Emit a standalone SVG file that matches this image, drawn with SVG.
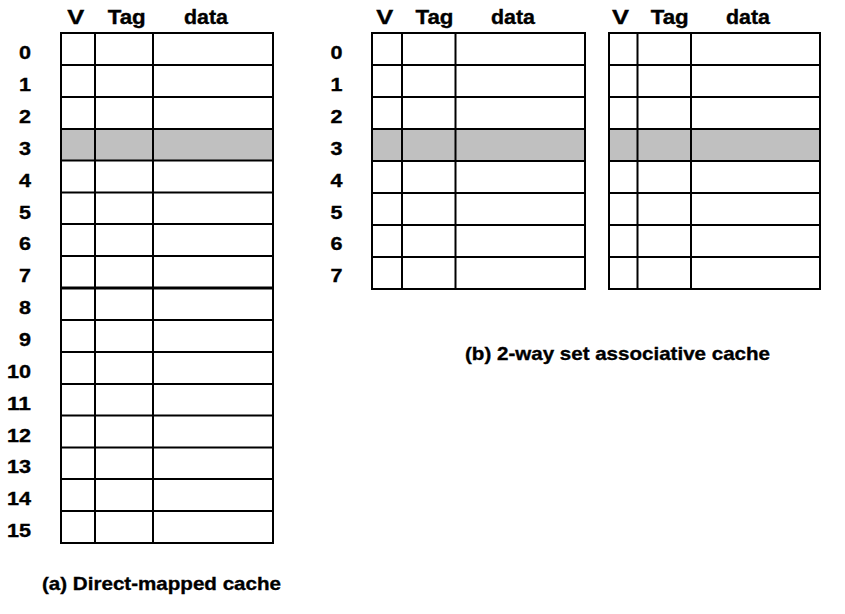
<svg xmlns="http://www.w3.org/2000/svg" width="845" height="614" viewBox="0 0 845 614">
  <style>
    text { font-family: "Liberation Sans", Arial, sans-serif; font-weight: bold; fill: #000; stroke: #000; stroke-width: 0.35px; }
    .hdr { font-size: 19.5px; }
    .idx { font-size: 18.5px; }
    .cap { font-size: 19px; }
    .grid { fill: none; stroke: #000; stroke-width: 2; }
    .thick { stroke: #000; stroke-width: 3; }
    .hit { fill: #c0c0c0; stroke: none; }
  </style>
  <rect width="845" height="614" fill="#fff"/>

  <!-- (a) direct-mapped cache: 16 lines -->
  <g id="direct-mapped">
    <rect class="hit" x="61" y="129" width="212" height="31.5"/>
    <path class="grid" d="M61 33H273V543H61Z M95 33V543 M153 33V543
      M61 65H273 M61 97H273 M61 129H273 M61 160.5H273 M61 192.5H273 M61 224H273 M61 256H273
      M61 320H273 M61 352H273 M61 384H273 M61 415.5H273 M61 447.5H273 M61 479H273 M61 511H273"/>
    <path class="thick" d="M60 288H274"/>
    <text class="hdr" x="67.2" y="24.3" textLength="17" lengthAdjust="spacingAndGlyphs">V</text>
    <text class="hdr" x="107.7" y="24.3" textLength="38" lengthAdjust="spacingAndGlyphs">Tag</text>
    <text class="hdr" x="184" y="24.3" textLength="44" lengthAdjust="spacingAndGlyphs">data</text>
    <text class="idx" x="19" y="59.3" textLength="12" lengthAdjust="spacingAndGlyphs">0</text>
    <text class="idx" x="19" y="91.1" textLength="12" lengthAdjust="spacingAndGlyphs">1</text>
    <text class="idx" x="19" y="123" textLength="12" lengthAdjust="spacingAndGlyphs">2</text>
    <text class="idx" x="19" y="154.8" textLength="12" lengthAdjust="spacingAndGlyphs">3</text>
    <text class="idx" x="19" y="186.7" textLength="12" lengthAdjust="spacingAndGlyphs">4</text>
    <text class="idx" x="19" y="218.5" textLength="12" lengthAdjust="spacingAndGlyphs">5</text>
    <text class="idx" x="19" y="250.4" textLength="12" lengthAdjust="spacingAndGlyphs">6</text>
    <text class="idx" x="19" y="282.2" textLength="12" lengthAdjust="spacingAndGlyphs">7</text>
    <text class="idx" x="19" y="314" textLength="12" lengthAdjust="spacingAndGlyphs">8</text>
    <text class="idx" x="19" y="345.9" textLength="12" lengthAdjust="spacingAndGlyphs">9</text>
    <text class="idx" x="7" y="377.5" textLength="24" lengthAdjust="spacingAndGlyphs">10</text>
    <text class="idx" x="7" y="409.5" textLength="24" lengthAdjust="spacingAndGlyphs">11</text>
    <text class="idx" x="7" y="441.5" textLength="24" lengthAdjust="spacingAndGlyphs">12</text>
    <text class="idx" x="7" y="473.3" textLength="24" lengthAdjust="spacingAndGlyphs">13</text>
    <text class="idx" x="7" y="505.2" textLength="24" lengthAdjust="spacingAndGlyphs">14</text>
    <text class="idx" x="7" y="537" textLength="24" lengthAdjust="spacingAndGlyphs">15</text>
    <text class="cap" x="42" y="590" textLength="239" lengthAdjust="spacingAndGlyphs">(a) Direct-mapped cache</text>
  </g>

  <!-- (b) 2-way set associative cache: way 0 -->
  <g id="way0">
    <rect class="hit" x="372" y="129" width="213" height="32"/>
    <path class="grid" d="M372 33H585V289H372Z M402 33V289 M455.5 33V289
      M372 65H585 M372 97H585 M372 129H585 M372 161H585 M372 193H585 M372 225H585 M372 257H585"/>
    <text class="hdr" x="376.2" y="24.3" textLength="17" lengthAdjust="spacingAndGlyphs">V</text>
    <text class="hdr" x="415.5" y="24.3" textLength="38" lengthAdjust="spacingAndGlyphs">Tag</text>
    <text class="hdr" x="491" y="24.3" textLength="44" lengthAdjust="spacingAndGlyphs">data</text>
    <text class="idx" x="330.5" y="59.3" textLength="12" lengthAdjust="spacingAndGlyphs">0</text>
    <text class="idx" x="330.5" y="91.1" textLength="12" lengthAdjust="spacingAndGlyphs">1</text>
    <text class="idx" x="330.5" y="123" textLength="12" lengthAdjust="spacingAndGlyphs">2</text>
    <text class="idx" x="330.5" y="154.8" textLength="12" lengthAdjust="spacingAndGlyphs">3</text>
    <text class="idx" x="330.5" y="186.7" textLength="12" lengthAdjust="spacingAndGlyphs">4</text>
    <text class="idx" x="330.5" y="218.5" textLength="12" lengthAdjust="spacingAndGlyphs">5</text>
    <text class="idx" x="330.5" y="250.4" textLength="12" lengthAdjust="spacingAndGlyphs">6</text>
    <text class="idx" x="330.5" y="282.2" textLength="12" lengthAdjust="spacingAndGlyphs">7</text>
  </g>

  <!-- (b) way 1 -->
  <g id="way1">
    <rect class="hit" x="609" y="129" width="211" height="32"/>
    <path class="grid" d="M609 33H820V289H609Z M637.5 33V289 M691 33V289
      M609 65H820 M609 97H820 M609 129H820 M609 161H820 M609 193H820 M609 225H820 M609 257H820"/>
    <text class="hdr" x="612" y="24.3" textLength="17" lengthAdjust="spacingAndGlyphs">V</text>
    <text class="hdr" x="650.7" y="24.3" textLength="38" lengthAdjust="spacingAndGlyphs">Tag</text>
    <text class="hdr" x="726" y="24.3" textLength="44" lengthAdjust="spacingAndGlyphs">data</text>
  </g>

  <text class="cap" x="465" y="359.5" textLength="305" lengthAdjust="spacingAndGlyphs">(b) 2-way set associative cache</text>
</svg>
